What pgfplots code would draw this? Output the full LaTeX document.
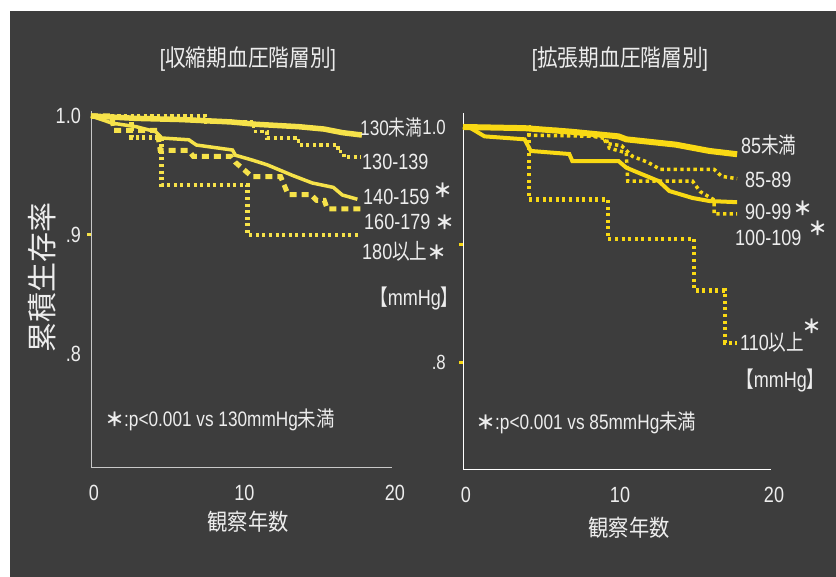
\documentclass[border=0pt]{standalone}
\usepackage{fontspec}
\setmainfont{Liberation Sans}[FakeStretch=0.82]
\newfontfamily\jp{Noto Sans CJK JP}[FakeStretch=0.88]
\newfontfamily\jpn{Noto Sans CJK JP}[FakeStretch=0.8]
\newfontfamily\jpw{Noto Sans CJK JP}
\usepackage{pgfplots}
\pgfplotsset{compat=1.18}
\definecolor{bg}{HTML}{3D3D3D}
\definecolor{yl}{HTML}{F6E24A}
\definecolor{yr}{HTML}{F9D914}
\definecolor{tx}{HTML}{EDEDED}
\definecolor{axl}{HTML}{C8C8C8}
\newcommand{\fs}[1]{\fontsize{#1}{#1}\selectfont}
\newcommand{\astk}{{\jpw\bfseries\fs{19}＊}}
\pgfplotsset{km/.style={scale only axis, anchor=south west, xmin=0, xmax=20, clip=false,
  axis lines*=left, axis line style={-, line width=0.9pt},
  xtick={0,10,20}, xticklabels={0,10,20}, ytick={0.8,0.9,1.0},
  xtick style={draw=none}, ytick style={draw=none},
  tick label style={font=\fs{22}, text=tx, inner sep=0pt},
  xticklabel style={yshift=-18pt, xshift=3pt}, yticklabel style={xshift=-10pt},
  /pgf/number format/assume math mode=true},
  solidA/.style={line width=5.5pt},
  solidB/.style={line width=3.5pt},
  dotA/.style={line width=3.5pt, dash pattern=on 3.3pt off 3.3pt},
  dotB/.style={line width=4.5pt, dash pattern=on 3pt off 3.6pt},
  dashA/.style={line width=5pt, dash pattern=on 7pt off 5pt}}
\begin{document}
\begin{tikzpicture}[x=1pt,y=1pt]
\fill[white] (0pt,0pt) rectangle (836pt,577pt);
\fill[bg] (10pt,0pt) rectangle (836pt,566pt);
% ---------- left panel ----------
\begin{axis}[km, at={(91pt,110pt)}, width=301pt, height=356pt, ymin=0.705, ymax=1.0042,
  yticklabels={.8,.9,1.0}, axis line style={axl},
  extra y ticks={0.9}, extra y tick labels={},
  extra y tick style={tick align=outside, major tick length=4pt, ytick style={draw=yl, line width=3pt}}]
% 180以上
\addplot[yl, dotB, const plot] coordinates {(0,1.0) (2.7,0.982) (4.7,0.942) (10.4,0.900) (17.9,0.900)};
% 160-179
\addplot[yl, dashA] coordinates {(0,1.0) (1.4,1.0) (1.5,0.988) (4.4,0.988) (4.6,0.971) (6.5,0.971) (6.8,0.966) (9.3,0.966) (9.6,0.961) (10.7,0.949) (12.6,0.949) (13.1,0.934) (14.6,0.934) (15.0,0.929) (15.5,0.929) (15.7,0.922) (17.9,0.922)};
% 130-139
\addplot[yl, dotA, const plot] coordinates {(0,1.0) (7.6,0.995) (10.8,0.987) (11.7,0.9815) (13.8,0.9756) (16.4,0.970) (16.8,0.9655) (17.9,0.9655)};
% 140-159
\addplot[yl, solidB] coordinates {(0,1.0) (1.4,0.994) (3,0.991) (4.3,0.9868) (4.7,0.9815) (6.5,0.980) (7.0,0.9756) (9.4,0.9714) (9.6,0.967) (10.7,0.963) (11.7,0.959) (13.4,0.950) (14.7,0.9437) (16.1,0.940) (16.7,0.9336) (17.7,0.930)};
% 130未満
\addplot[yl, solidA] coordinates {(0,1.0) (3,0.998) (6,0.997) (9.3,0.995) (11,0.993) (13.8,0.991) (15.5,0.989) (16.7,0.986) (18,0.984)};
\end{axis}
% ---------- right panel ----------
\begin{axis}[km, at={(463pt,108pt)}, width=308pt, height=356pt, ymin=0.709, ymax=1.0119,
  yticklabels={.8,,1.0}, axis line style={white}, yticklabel style={xshift=-7pt, font=\fs{20.5}},
  extra y ticks={0.8,0.9}, extra y tick labels={},
  extra y tick style={tick align=outside, major tick length=4pt, ytick style={draw=yr, line width=3pt}}]
% 110以上
\addplot[yr, dotB, const plot] coordinates {(0,1.0) (4.3,0.9385) (9.4,0.9047) (15.0,0.861) (17.0,0.816) (17.8,0.816)};
% 100-109
\addplot[yr, dotA] coordinates {(0,1.0) (6,0.998) (9.3,0.99) (9.5,0.982) (10.6,0.978) (10.7,0.954) (14.9,0.954) (15.4,0.945) (16.3,0.938) (16.3,0.926) (17.8,0.926)};
% 85-89
\addplot[yr, dotA] coordinates {(0,1.0) (4.3,1.0) (4.3,0.993) (9.1,0.992) (9.3,0.986) (10.3,0.984) (11.0,0.975) (12.0,0.970) (12.8,0.964) (16.3,0.964) (16.8,0.958) (17.8,0.956)};
% 90-99
\addplot[yr, solidB, line width=4pt] coordinates {(0,1.0) (0.5,0.999) (1.4,0.992) (4.0,0.9895) (4.4,0.9796) (6.9,0.977) (7.1,0.971) (10.1,0.971) (10.6,0.9654) (11.4,0.961) (12.7,0.954) (13.4,0.9455) (14.9,0.9396) (16.0,0.937) (17.8,0.936)};
% 85未満
\addplot[yr, solidA, line width=6pt] coordinates {(0,1.0) (4.0,0.999) (7,0.996) (10.1,0.992) (10.6,0.9895) (13.8,0.985) (16.0,0.9796) (17.8,0.9768)};
\end{axis}
% ---------- texts ----------
\begin{scope}[every node/.style={text=tx, inner sep=0pt}]
\node at (248pt,518pt) {\fs{23.5}[{\jp 収縮期血圧階層別}]};
\node at (620pt,518pt) {\fs{23.5}[{\jp 拡張期血圧階層別}]};
\node at (248pt,55pt) {\jp\fs{23}観察年数};
\node at (629pt,49pt) {\jp\fs{23}観察年数};
\node[rotate=90] at (42pt,299pt) {\jpw\fs{30}累積生存率};
\node[anchor=west] at (105pt,157pt) {\fs{21}\astk:p<0.001 vs 130mmHg{\jp 未満}};
\node[anchor=west] at (476pt,154pt) {\fs{21}\astk:p<0.001 vs 85mmHg{\jp 未満}};
% left series labels
\node[anchor=west] at (360pt,449pt) {\fs{21}130{\jpn 未満}};
\node[anchor=west] at (362pt,415pt) {\fs{22}130-139};
\node[anchor=west] at (363pt,380pt) {\fs{22}140-159};
\node at (443pt,387pt) {\astk};
\node[anchor=west] at (364pt,355pt) {\fs{22}160-179};
\node at (445pt,355pt) {\astk};
\node[anchor=west] at (362pt,326pt) {\fs{22}180{\jpn 以上}\astk};
\node[anchor=west] at (370pt,279pt) {\fs{22}{\jpn 【}mmHg{\jpn 】}};
% right series labels
\node[anchor=west] at (741pt,432pt) {\fs{22}85{\jpn 未満}};
\node[anchor=west] at (745pt,397pt) {\fs{22}85-89};
\node[anchor=west] at (745pt,365pt) {\fs{22}90-99};
\node at (803pt,369pt) {\astk};
\node[anchor=west] at (735pt,339pt) {\fs{22}100-109};
\node at (818pt,349pt) {\astk};
\node[anchor=west] at (740pt,235pt) {\fs{22}110{\jpn 以上}};
\node at (812pt,251pt) {\astk};
\node[anchor=west] at (736pt,197pt) {\fs{22}{\jpn 【}mmHg{\jpn 】}};
\end{scope}
\end{tikzpicture}
\end{document}
